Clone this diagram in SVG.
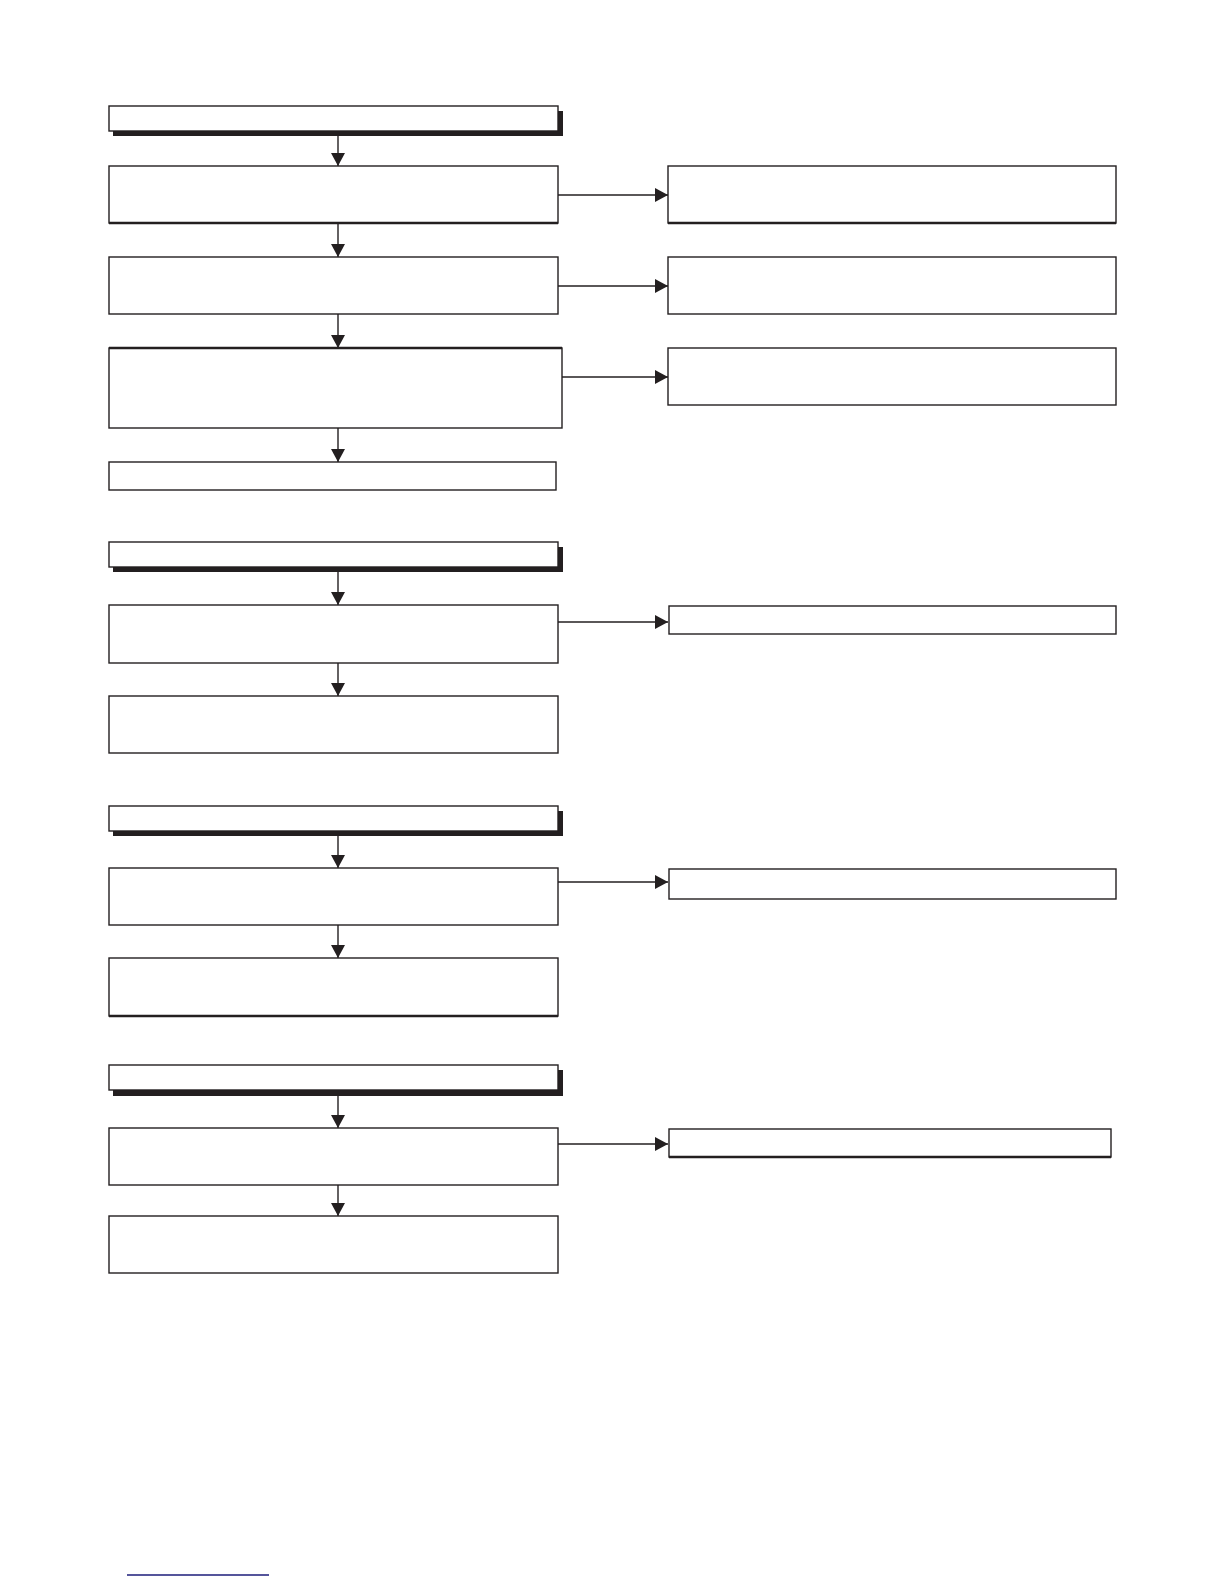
<svg xmlns="http://www.w3.org/2000/svg" width="1224" height="1584" viewBox="0 0 1224 1584">
<defs>
<style>
.box{fill:#fff;stroke:#231f20;stroke-width:1.4}
.shadow{fill:#231f20}
.edge{stroke:#231f20;stroke-width:2.6}
.conn{stroke:#231f20;stroke-width:1.4;fill:none}
</style>
<marker id="arr" markerUnits="userSpaceOnUse" markerWidth="13" markerHeight="14" refX="13" refY="7" orient="auto">
<path d="M0,0 L13,7 L0,14 z" fill="#231f20"/>
</marker>
</defs>
<rect width="1224" height="1584" fill="#fff"/>

<g id="connectors">
<line class="conn" x1="338" y1="136" x2="338" y2="166" marker-end="url(#arr)"/>
<line class="conn" x1="338" y1="223" x2="338" y2="257" marker-end="url(#arr)"/>
<line class="conn" x1="338" y1="314" x2="338" y2="348" marker-end="url(#arr)"/>
<line class="conn" x1="338" y1="428" x2="338" y2="462" marker-end="url(#arr)"/>
<line class="conn" x1="558" y1="195" x2="668" y2="195" marker-end="url(#arr)"/>
<line class="conn" x1="558" y1="286" x2="668" y2="286" marker-end="url(#arr)"/>
<line class="conn" x1="562" y1="377" x2="668" y2="377" marker-end="url(#arr)"/>

<line class="conn" x1="338" y1="572" x2="338" y2="605" marker-end="url(#arr)"/>
<line class="conn" x1="338" y1="663" x2="338" y2="696" marker-end="url(#arr)"/>
<line class="conn" x1="558" y1="622" x2="668" y2="622" marker-end="url(#arr)"/>

<line class="conn" x1="338" y1="836" x2="338" y2="868" marker-end="url(#arr)"/>
<line class="conn" x1="338" y1="925" x2="338" y2="958" marker-end="url(#arr)"/>
<line class="conn" x1="558" y1="882" x2="668" y2="882" marker-end="url(#arr)"/>

<line class="conn" x1="338" y1="1096" x2="338" y2="1128" marker-end="url(#arr)"/>
<line class="conn" x1="338" y1="1185" x2="338" y2="1216" marker-end="url(#arr)"/>
<line class="conn" x1="558" y1="1144" x2="668" y2="1144" marker-end="url(#arr)"/>
</g>

<!-- Section 1 -->
<g id="header1">
<rect class="shadow" x="113" y="111" width="450" height="25"/>
<rect class="box" x="109" y="106" width="449" height="25"/>
</g>
<g id="a1">
<rect class="box" x="109" y="166" width="449" height="57"/>
<line class="edge" x1="109" y1="223" x2="558" y2="223"/>
</g>
<g id="a2"><rect class="box" x="109" y="257" width="449" height="57"/></g>
<g id="a3">
<rect class="box" x="109" y="348" width="453" height="80"/>
<line class="edge" x1="109" y1="348" x2="562" y2="348"/>
</g>
<g id="a4"><rect class="box" x="109" y="462" width="447" height="28"/></g>
<g id="b1">
<rect class="box" x="668" y="166" width="448" height="57"/>
<line class="edge" x1="668" y1="223" x2="1116" y2="223"/>
</g>
<g id="b2"><rect class="box" x="668" y="257" width="448" height="57"/></g>
<g id="b3"><rect class="box" x="668" y="348" width="448" height="57"/></g>

<!-- Section 2 -->
<g id="header2">
<rect class="shadow" x="113" y="547" width="450" height="25"/>
<rect class="box" x="109" y="542" width="449" height="25"/>
</g>
<g id="c1"><rect class="box" x="109" y="605" width="449" height="58"/></g>
<g id="c2"><rect class="box" x="109" y="696" width="449" height="57"/></g>
<g id="d1"><rect class="box" x="669" y="606" width="447" height="28"/></g>

<!-- Section 3 -->
<g id="header3">
<rect class="shadow" x="113" y="811" width="450" height="25"/>
<rect class="box" x="109" y="806" width="449" height="25"/>
</g>
<g id="e1"><rect class="box" x="109" y="868" width="449" height="57"/></g>
<g id="e2">
<rect class="box" x="109" y="958" width="449" height="58"/>
<line class="edge" x1="109" y1="1016" x2="558" y2="1016"/>
</g>
<g id="f1"><rect class="box" x="669" y="869" width="447" height="30"/></g>

<!-- Section 4 -->
<g id="header4">
<rect class="shadow" x="113" y="1070" width="450" height="26"/>
<rect class="box" x="109" y="1065" width="449" height="25"/>
</g>
<g id="g1"><rect class="box" x="109" y="1128" width="449" height="57"/></g>
<g id="g2"><rect class="box" x="109" y="1216" width="449" height="57"/></g>
<g id="h1">
<rect class="box" x="669" y="1129" width="442" height="28"/>
<line class="edge" x1="669" y1="1157" x2="1111" y2="1157"/>
</g>

<line x1="127" y1="1575" x2="269" y2="1575" stroke="#1c1c7a" stroke-width="1.5"/>
</svg>
